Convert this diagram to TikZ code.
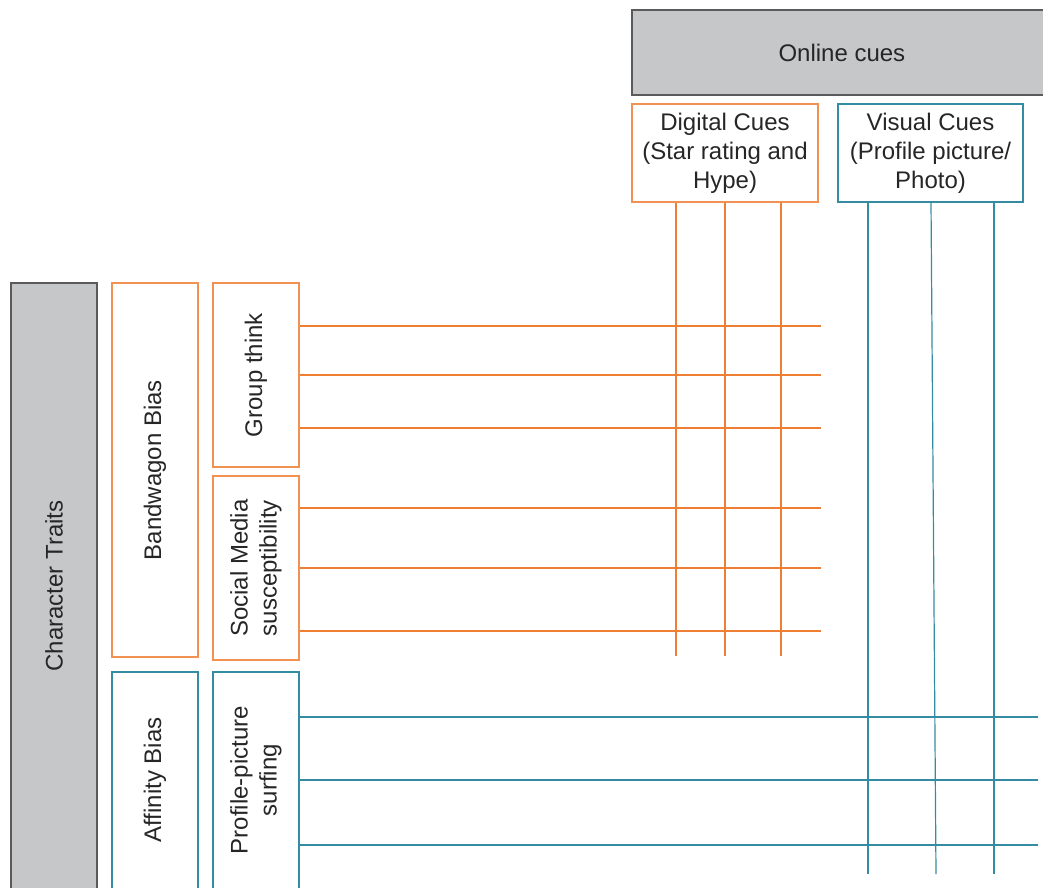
\documentclass[tikz,border=0pt]{standalone}
\usepackage{fontspec}
\setmainfont{Liberation Sans}
\usetikzlibrary{positioning,calc}
\definecolor{cueorange}{RGB}{238,126,52}
\definecolor{cueteal}{RGB}{52,140,162}
\definecolor{cuegray}{RGB}{198,199,201}
\definecolor{cuedark}{RGB}{90,90,90}

\begin{document}
\begin{tikzpicture}[x=1pt, y=-1pt,
            cuetext/.style={font=\fontsize{24}{29}\selectfont, text=black!85},
            graybox/.style={draw=cuedark, fill=cuegray, line width=1.2pt, inner sep=0pt},
            orangebox/.style={draw=cueorange!85, line width=1.1pt, inner sep=0pt, align=center, cuetext},
            tealbox/.style={draw=cueteal, line width=1.1pt, inner sep=0pt, align=center, cuetext},
            sidetext/.style={cuetext, rotate=90, align=center},
            orangeline/.style={draw=cueorange, line width=1.2pt},
            tealline/.style={draw=cueteal, line width=1.2pt}
        ]
        \useasboundingbox (0,0) rectangle (1043,887);
        \clip (0,0) rectangle (1043,887);

        % Online cues header (runs past the right edge)
        \node[graybox, minimum width=460pt, minimum height=85pt] (online) at (862,52.5) {};
        \node[cuetext] (onlinelbl) at ($(online.west) + (210.5,0)$) {Online cues};

        % Cue boxes
        \node[orangebox, minimum width=186pt, minimum height=98pt] (digital) at (725,153) {Digital Cues\\(Star rating and\\Hype)};
        \node[tealbox, minimum width=185pt, minimum height=98pt] (visual) at (930.5,153) {Visual Cues\\(Profile picture/\\Photo)};

        % Character traits column
        \node[graybox, minimum width=86pt, minimum height=606pt] (traits) at (54,586) {};
        \node[sidetext] (traitslbl) at (traits.center) {Character Traits};

        % Bandwagon bias
        \node[orangebox, minimum width=86pt, minimum height=374pt] (bandwagon) at (155,470) {};
        \node[sidetext] (bandwagonlbl) at (bandwagon.center) {Bandwagon Bias};

        \node[orangebox, minimum width=86pt, minimum height=184pt] (groupthink) at (256,375) {};
        \node[sidetext] (groupthinklbl) at (groupthink.center) {Group think};

        \node[orangebox, minimum width=86pt, minimum height=184pt] (social) at (256,568) {};
        \node[sidetext] (sociallbl) at (social.center) {Social Media\\susceptibility};

        % Affinity bias
        \node[tealbox, minimum width=86pt, minimum height=218pt] (affinity) at (155,781) {};
        \node[sidetext] (affinitylbl) at ($(affinity.center) + (0,-1)$) {Affinity Bias};

        \node[tealbox, minimum width=86pt, minimum height=218pt] (surfing) at (256,781) {};
        \node[sidetext] (surfinglbl) at ($(surfing.center) + (0,-1)$) {Profile-picture\\surfing};

        % Free ends of the grid lines
        \coordinate (dv1) at (676,656);
        \coordinate (dv2) at (725,656);
        \coordinate (dv3) at (781,656);
        \coordinate (vv1) at (868,874);
        \coordinate (vv2) at (936,874);
        \coordinate (vv3) at (994,874);

        \coordinate (gh1) at (821,326);
        \coordinate (gh2) at (821,375);
        \coordinate (gh3) at (821,428);
        \coordinate (sh1) at (821,508);
        \coordinate (sh2) at (821,568);
        \coordinate (sh3) at (821,631);
        \coordinate (ph1) at (1038,717);
        \coordinate (ph2) at (1038,780);
        \coordinate (ph3) at (1038,845);

        % Vertical lines from the cue boxes
        \draw[orangeline] (digital.south -| dv1) -- (dv1);
        \draw[orangeline] (digital.south -| dv2) -- (dv2);
        \draw[orangeline] (digital.south -| dv3) -- (dv3);
        \draw[tealline] (visual.south -| vv1) -- (vv1);
        \draw[tealline] (visual.south -| 931,0) -- (vv2);
        \draw[tealline] (visual.south -| vv3) -- (vv3);

        % Horizontal lines from the trait boxes
        \draw[orangeline] (groupthink.east |- gh1) -- (gh1);
        \draw[orangeline] (groupthink.east |- gh2) -- (gh2);
        \draw[orangeline] (groupthink.east |- gh3) -- (gh3);
        \draw[orangeline] (social.east |- sh1) -- (sh1);
        \draw[orangeline] (social.east |- sh2) -- (sh2);
        \draw[orangeline] (social.east |- sh3) -- (sh3);
        \draw[tealline] (surfing.east |- ph1) -- (ph1);
        \draw[tealline] (surfing.east |- ph2) -- (ph2);
        \draw[tealline] (surfing.east |- ph3) -- (ph3);

\end{tikzpicture}
\end{document}
